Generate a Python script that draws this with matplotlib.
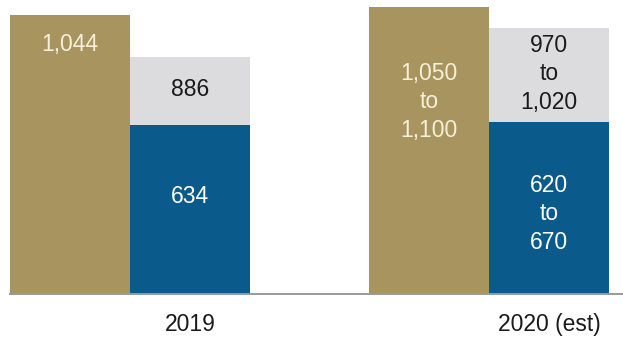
import matplotlib
matplotlib.use("Agg")
import matplotlib.pyplot as plt

# Data
years = ["2019", "2020 (est)"]
gold_low = [1044, 1050]
gold_high = [1044, 1100]
blue_low = [634, 620]
blue_high = [634, 670]
total_low = [886, 970]
total_high = [886, 1020]

gold_labels = ["1,044", "1,050\nto\n1,100"]
total_labels = ["886", "970\nto\n1,020"]
blue_labels = ["634", "620\nto\n670"]

GOLD = "#A8945F"
BLUE = "#0A5A8C"
GRAY = "#DCDCDF"
CREAM = "#F6F0DA"

plt.rcParams["font.family"] = ["Liberation Sans", "DejaVu Sans"]

W, H = 623, 341
fig = plt.figure(figsize=(W / 100, H / 100), dpi=100)
ax = fig.add_axes([10 / W, 47 / H, 613 / W, 294 / H])

w = 0.334
idx = list(range(len(years)))
mid = lambda lo, hi: [(a + b) / 2 for a, b in zip(lo, hi)]

gold = mid(gold_low, gold_high)
blue = mid(blue_low, blue_high)
total = mid(total_low, total_high)
rest = [t - b for t, b in zip(total, blue)]

xg = [i - w / 2 for i in idx]
xs = [i + w / 2 for i in idx]

ax.bar(xg, gold, width=w, color=GOLD, linewidth=0)
ax.bar(xs, blue, width=w, color=BLUE, linewidth=0)
ax.bar(xs, rest, width=w, bottom=blue, color=GRAY, linewidth=0)

ax.set_xlim(-w, 1.373)
ax.set_ylim(0, 1100)
for s in ["top", "left", "right"]:
    ax.spines[s].set_visible(False)
ax.spines["bottom"].set_color("#9a9a9a")
ax.spines["bottom"].set_linewidth(1.4)
ax.set_yticks([])
ax.set_xticks(xs)

fs = 16.5
ls = 1.3

ax.set_xticklabels(years, fontsize=fs, color="#1a1a1a")
ax.tick_params(axis="x", length=0, pad=14)

def label(x, y, text, color, dy_px):
    ax.annotate(text, (x, y), xytext=(0, -dy_px * 0.72), textcoords="offset points",
                ha="center", va="center", fontsize=fs, color=color,
                linespacing=ls)

# gold bar labels, measured down from the bar top
label(xg[0], gold[0], gold_labels[0], CREAM, 30)
label(xg[1], gold[1], gold_labels[1], CREAM, 95)
# gray segment labels, centered in the segment
for i in idx:
    label(xs[i], (total[i] + blue[i]) / 2, total_labels[i], "#1a1a1a", -1)
# blue segment labels
label(xs[0], blue[0] / 2, blue_labels[0], "white", -13)
label(xs[1], blue[1] / 2, blue_labels[1], "white", 6)

fig.savefig("out.png", dpi=100)
